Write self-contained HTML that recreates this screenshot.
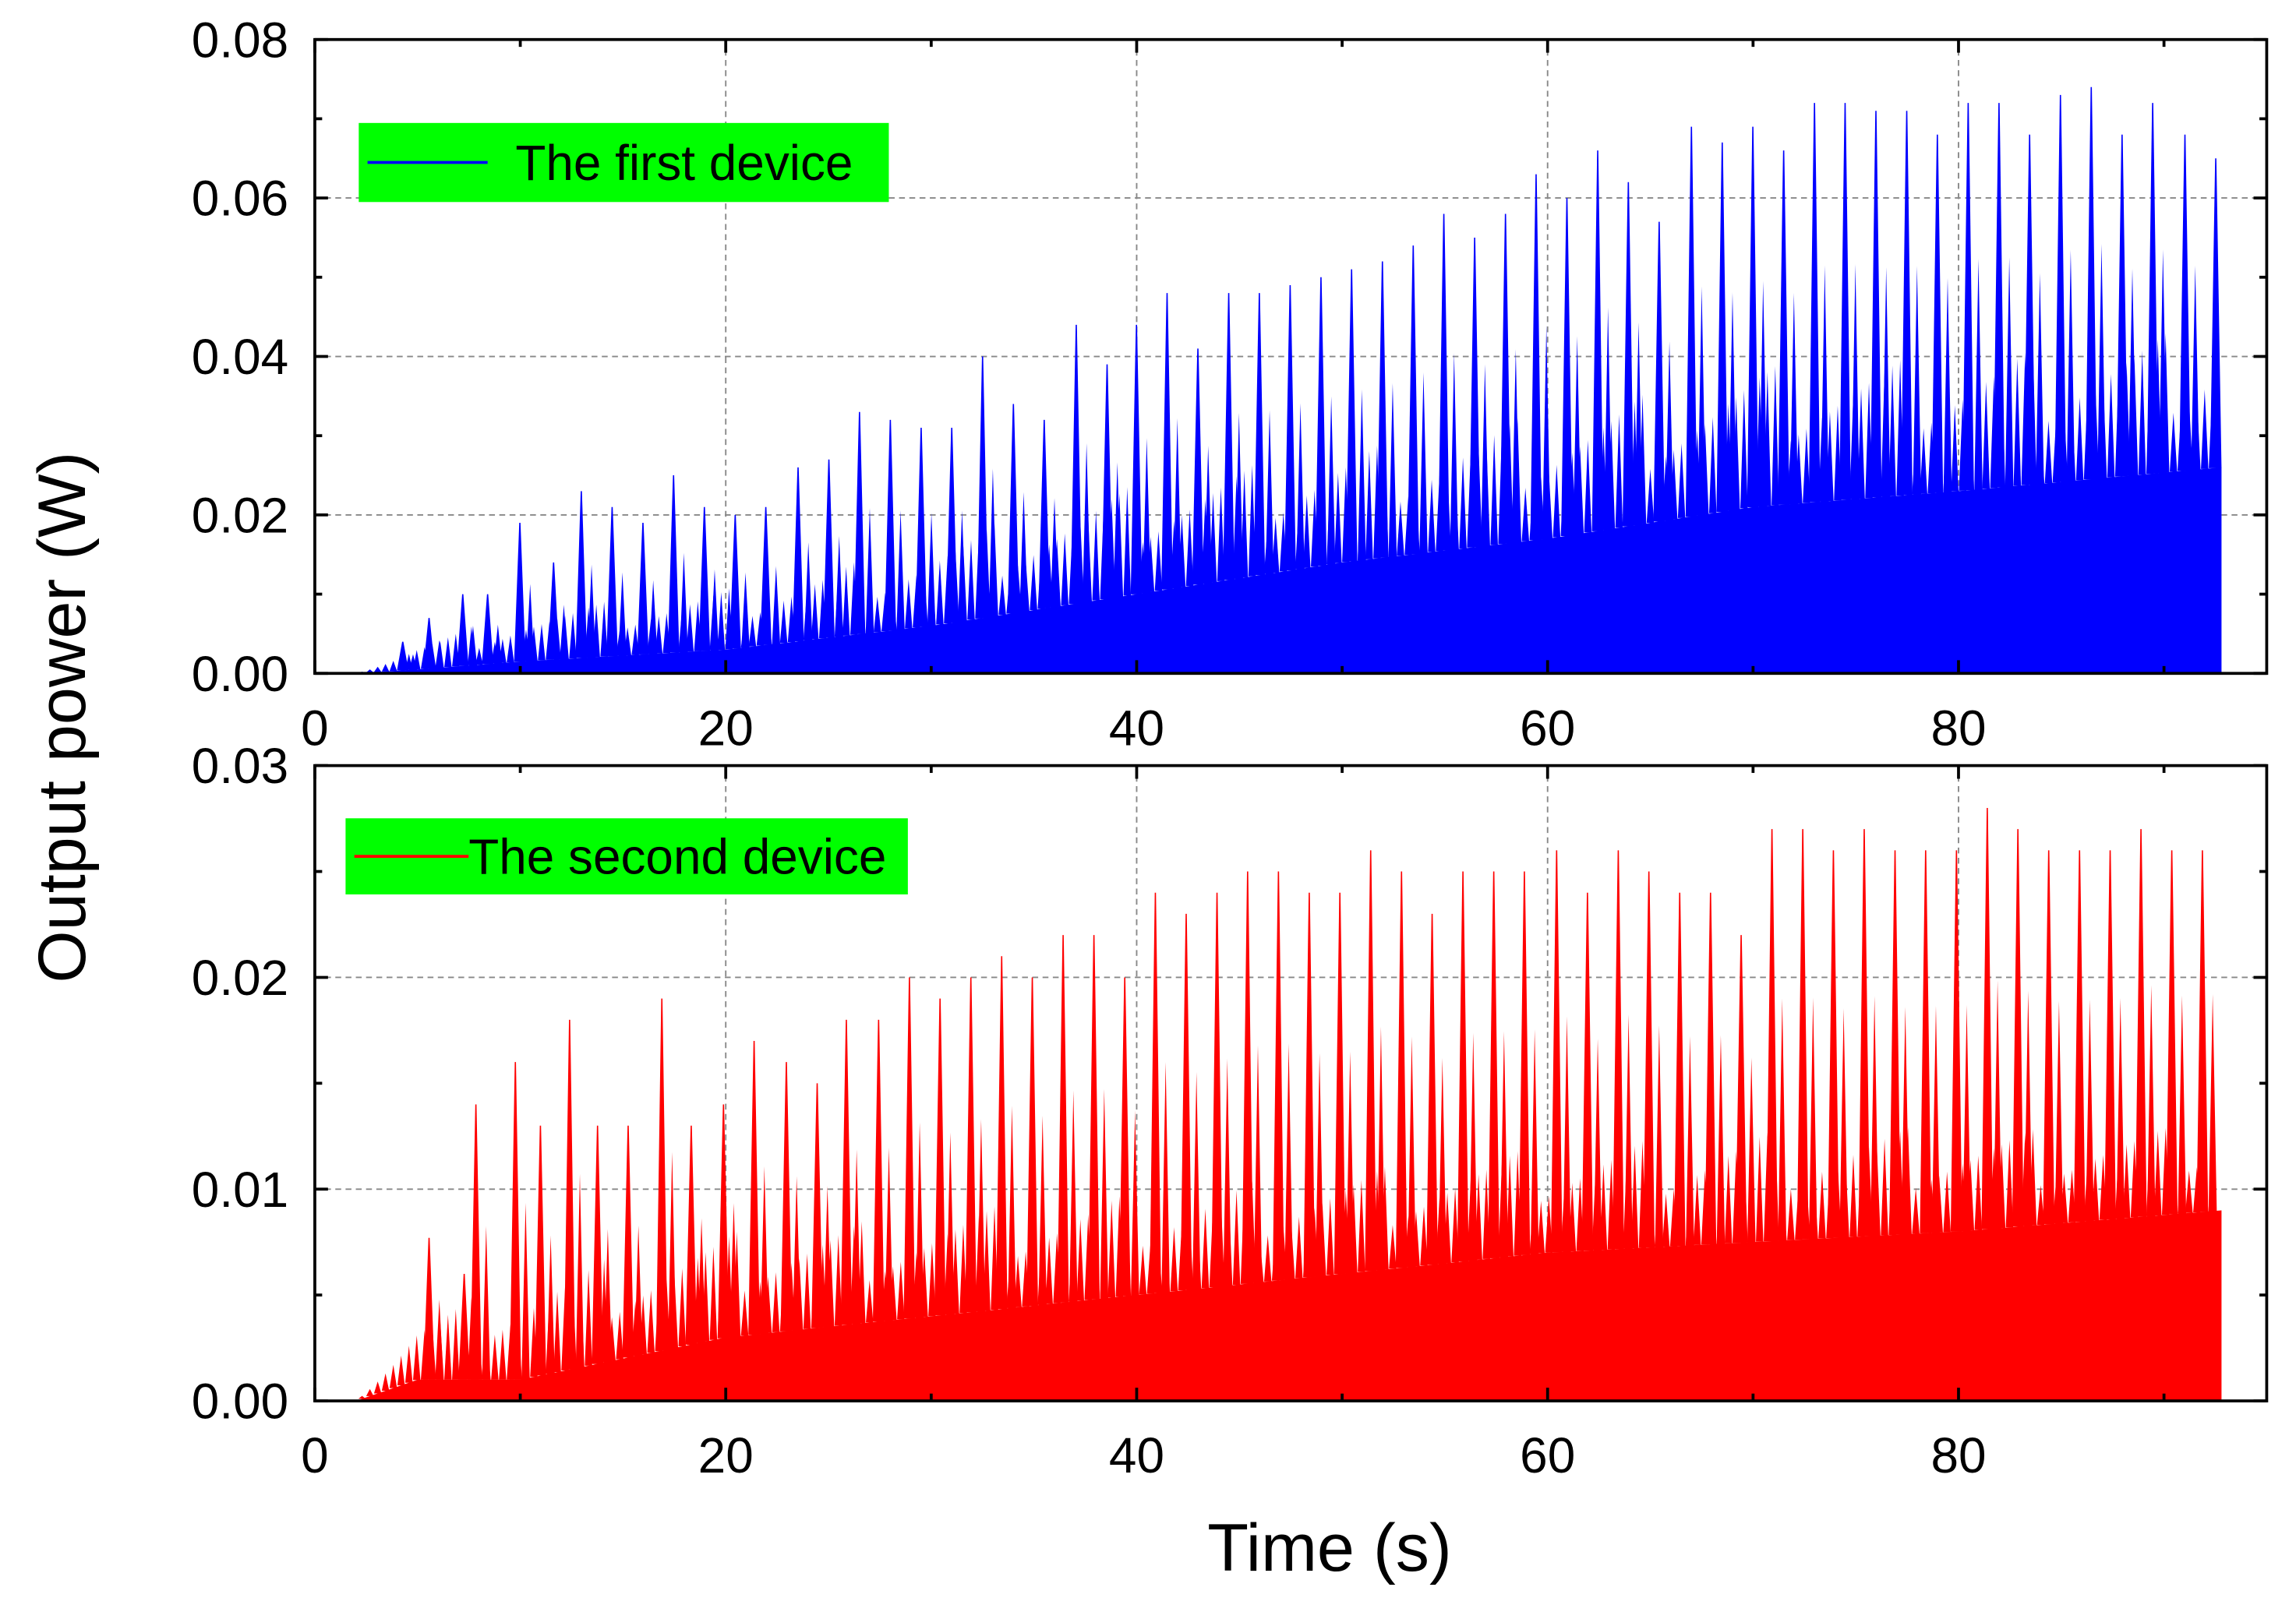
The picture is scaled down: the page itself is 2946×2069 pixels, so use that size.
<!DOCTYPE html>
<html><head><meta charset="utf-8"><style>
html,body{margin:0;padding:0;background:#fff;}
svg{display:block;}
text{font-family:"Liberation Sans",Arial,sans-serif;fill:#000;}
</style></head><body>
<svg id="chart" width="2946" height="2069" viewBox="0 0 1568 1101.2" preserveAspectRatio="none" xmlns="http://www.w3.org/2000/svg">
<g id="root"></g>
</svg>
<script>
// ---- data (seconds, watts) ----
const topPeakTimes=[4.28,5.56,7.2,8.41,9.98,11.62,12.97,14.47,15.97,17.46,18.96,20.46,21.95,23.52,25.02,26.51,28.01,29.51,31.0,32.5,34.0,35.5,37.06,38.56,39.99,41.48,42.98,44.48,45.97,47.47,48.97,50.46,51.96,53.46,54.95,56.45,57.95,59.44,60.94,62.44,63.93,65.43,67.0,68.5,69.99,71.49,72.99,74.48,75.98,77.48,78.97,80.47,81.97,83.46,84.96,86.46,87.96,89.45,91.02,92.52];
const topPeakValues=[0.004,0.007,0.010,0.010,0.019,0.014,0.023,0.021,0.019,0.025,0.021,0.020,0.021,0.026,0.027,0.033,0.032,0.031,0.031,0.040,0.034,0.032,0.044,0.039,0.044,0.048,0.041,0.048,0.048,0.049,0.050,0.051,0.052,0.054,0.058,0.055,0.058,0.063,0.060,0.066,0.062,0.057,0.069,0.067,0.069,0.066,0.072,0.072,0.071,0.071,0.068,0.072,0.072,0.068,0.073,0.074,0.068,0.072,0.068,0.065];
const topFloorTimes=[2,5,10,20,30,40,50,60,70,80,92.8];
const topFloorValues=[0,0.0005,0.0015,0.003,0.006,0.010,0.014,0.017,0.021,0.023,0.026];
const topUpperValues=[0,0.004,0.008,0.011,0.017,0.024,0.029,0.033,0.039,0.041,0.044];

const botPeakTimes=[5.56,7.27,7.84,9.76,10.98,12.4,13.76,15.25,16.89,18.32,19.89,21.38,22.95,24.45,25.87,27.44,28.94,30.43,31.93,33.43,34.92,36.42,37.92,39.42,40.91,42.41,43.91,45.4,46.9,48.4,49.89,51.39,52.89,54.38,55.88,57.38,58.87,60.44,61.94,63.44,64.93,66.43,67.93,69.42,70.92,72.42,73.91,75.41,76.91,78.4,79.9,81.4,82.89,84.39,85.89,87.38,88.88,90.38,91.87];
const botPeakValues=[0.0077,0.006,0.014,0.016,0.013,0.018,0.013,0.013,0.019,0.013,0.014,0.017,0.016,0.015,0.018,0.018,0.020,0.019,0.020,0.021,0.020,0.022,0.022,0.020,0.024,0.023,0.024,0.025,0.025,0.024,0.024,0.026,0.025,0.023,0.025,0.025,0.025,0.026,0.024,0.026,0.025,0.024,0.024,0.022,0.027,0.027,0.026,0.027,0.026,0.026,0.026,0.028,0.027,0.026,0.026,0.026,0.027,0.026,0.026];
const botFloorTimes=[2,5,10,20,30,40,50,60,70,80,92.8];
const botFloorValues=[0,0.001,0.001,0.003,0.004,0.005,0.006,0.007,0.0075,0.008,0.009];
const botUpperValues=[0,0.004,0.006,0.008,0.009,0.010,0.011,0.012,0.013,0.013,0.013];

const xTicks=[0,20,40,60,80];
const topYTicks=[0,0.02,0.04,0.06,0.08];
const botYTicks=[0,0.01,0.02,0.03];

const NS="http://www.w3.org/2000/svg";
const root=document.getElementById('root');
function el(tag,attrs,parent){const e=document.createElementNS(NS,tag);for(const k in attrs)e.setAttribute(k,attrs[k]);(parent||root).appendChild(e);return e;}
const X0=215,X1=1548,xMax=95;
function interp(ts,vs,t){if(t<=ts[0])return vs[0];for(let i=1;i<ts.length;i++){if(t<=ts[i]){const f=(t-ts[i-1])/(ts[i]-ts[i-1]);return vs[i-1]+f*(vs[i]-vs[i-1]);}}return vs[vs.length-1];}

function panel(cfg){
  const g=el('g',{});
  
  
  const xs=v=>X0+(v/xMax)*(X1-X0);
  const ys=v=>cfg.y1-(v/cfg.yMax)*(cfg.y1-cfg.y0);
  xTicks.slice(1).forEach(t=>{const l=el('line',{x1:xs(t),x2:xs(t),y1:cfg.y0,y2:cfg.y1,stroke:'#888','stroke-width':1,'stroke-dasharray':'4,3'},g);});
  cfg.yTicks.slice(1,-1).forEach(t=>{const l=el('line',{x1:X0,x2:X1,y1:ys(t),y2:ys(t),stroke:'#888','stroke-width':1,'stroke-dasharray':'4,3'},g);});
  const tEnd=92.8;
  let pts=[];
  for(let t=cfg.fT[0];t<=tEnd+0.001;t+=0.5)pts.push(xs(t)+','+ys(interp(cfg.fT,cfg.fV,t)));
  pts.push(xs(tEnd)+','+ys(interp(cfg.fT,cfg.fV,tEnd)));
  pts.push(xs(tEnd)+','+ys(0));pts.push(xs(cfg.fT[0])+','+ys(0));
  const fl=el('polygon',{points:pts.join(' '),fill:cfg.color},g);
  
  
  for(let t=cfg.fT[0]+0.3;t<tEnd-0.2;t+=0.38){
    const u=interp(cfg.fT,cfg.uV,t),f=interp(cfg.fT,cfg.fV,t);
    const k=((Math.round(t*100)*37)%100)/100;
    const h=f+(u-f)*(0.4+0.6*k);
    const p=el('polygon',{points:xs(t-0.18)+','+ys(f)+' '+xs(t)+','+ys(h)+' '+xs(t+0.18)+','+ys(f),fill:cfg.color},g);
    
    
  }
  cfg.pT.forEach((t,i)=>{
    const v=cfg.pV[i],f=interp(cfg.fT,cfg.fV,t);
    const p=el('polygon',{points:xs(t-0.28)+','+ys(f)+' '+xs(t-0.03)+','+ys(v)+' '+xs(t+0.03)+','+ys(v)+' '+xs(t+0.28)+','+ys(f),fill:cfg.color},g);
    
    
    if(t+0.7<tEnd){
    const p2=el('polygon',{points:xs(t+0.3)+','+ys(f)+' '+xs(t+0.5)+','+ys((v+f)*0.55)+' '+xs(t+0.7)+','+ys(f),fill:cfg.color},g);
    
    }
  });
  const fr=el('rect',{x:X0,y:cfg.y0,width:X1-X0,height:cfg.y1-cfg.y0,fill:'none',stroke:'#000','stroke-width':2},g);
  
  
  for(let t=0;t<=xMax;t+=10){const len=(t%20===0)?9:5;
    el('line',{x1:xs(t),x2:xs(t),y1:cfg.y1,y2:cfg.y1-len,stroke:'#000','stroke-width':2},g);
    el('line',{x1:xs(t),x2:xs(t),y1:cfg.y0,y2:cfg.y0+len,stroke:'#000','stroke-width':2},g);}
  xTicks.forEach(t=>{const tx=el('text',{x:xs(t),y:cfg.y1+49,'text-anchor':'middle','font-size':34},g);tx.textContent=t;});
  const st=cfg.yTicks[1]/2;
  for(let v=0;v<=cfg.yMax+1e-9;v+=st){const major=Math.abs(v/cfg.yTicks[1]-Math.round(v/cfg.yTicks[1]))<1e-6;const len=major?9:5;
    el('line',{x1:X0,x2:X0+len,y1:ys(v),y2:ys(v),stroke:'#000','stroke-width':2},g);
    el('line',{x1:X1,x2:X1-len,y1:ys(v),y2:ys(v),stroke:'#000','stroke-width':2},g);}
  cfg.yTicks.forEach(v=>{const tx=el('text',{x:X0-18,y:ys(v)+12,'text-anchor':'end','font-size':34},g);tx.textContent=v.toFixed(2);});
  const lg=el('g',{},g);
  
  
  el('rect',{x:cfg.lx,y:cfg.ly,width:cfg.lw,height:cfg.lh,fill:'#00ff00'},lg);
  el('line',{x1:cfg.lx+6,x2:cfg.lx+cfg.lineW,y1:cfg.ly+cfg.lh/2,y2:cfg.ly+cfg.lh/2,stroke:cfg.color,'stroke-width':2},lg);
  const lt=el('text',{x:cfg.tx,y:cfg.ly+cfg.lh/2+12,'font-size':34},lg);
  lt.textContent=cfg.label;
  
  
}
panel({name:'top-panel-first-device',y0:27,y1:460,yMax:0.08,yTicks:topYTicks,color:'#0000ff',pT:topPeakTimes,pV:topPeakValues,fT:topFloorTimes,fV:topFloorValues,uV:topUpperValues,lx:245,ly:84,lw:362,lh:54,lineW:88,tx:352,label:'The first device'});
panel({name:'bottom-panel-second-device',y0:523,y1:957,yMax:0.03,yTicks:botYTicks,color:'#ff0000',pT:botPeakTimes,pV:botPeakValues,fT:botFloorTimes,fV:botFloorValues,uV:botUpperValues,lx:236,ly:559,lw:384,lh:52,lineW:84,tx:320,label:'The second device'});
const xt=el('text',{x:908,y:1073,'text-anchor':'middle','font-size':46});
xt.textContent='Time (s)';


const yt=el('text',{x:0,y:0,'text-anchor':'middle','font-size':46,transform:'translate(58,490) rotate(-90)'});
yt.textContent='Output power (W)';


</script>
</body></html>
